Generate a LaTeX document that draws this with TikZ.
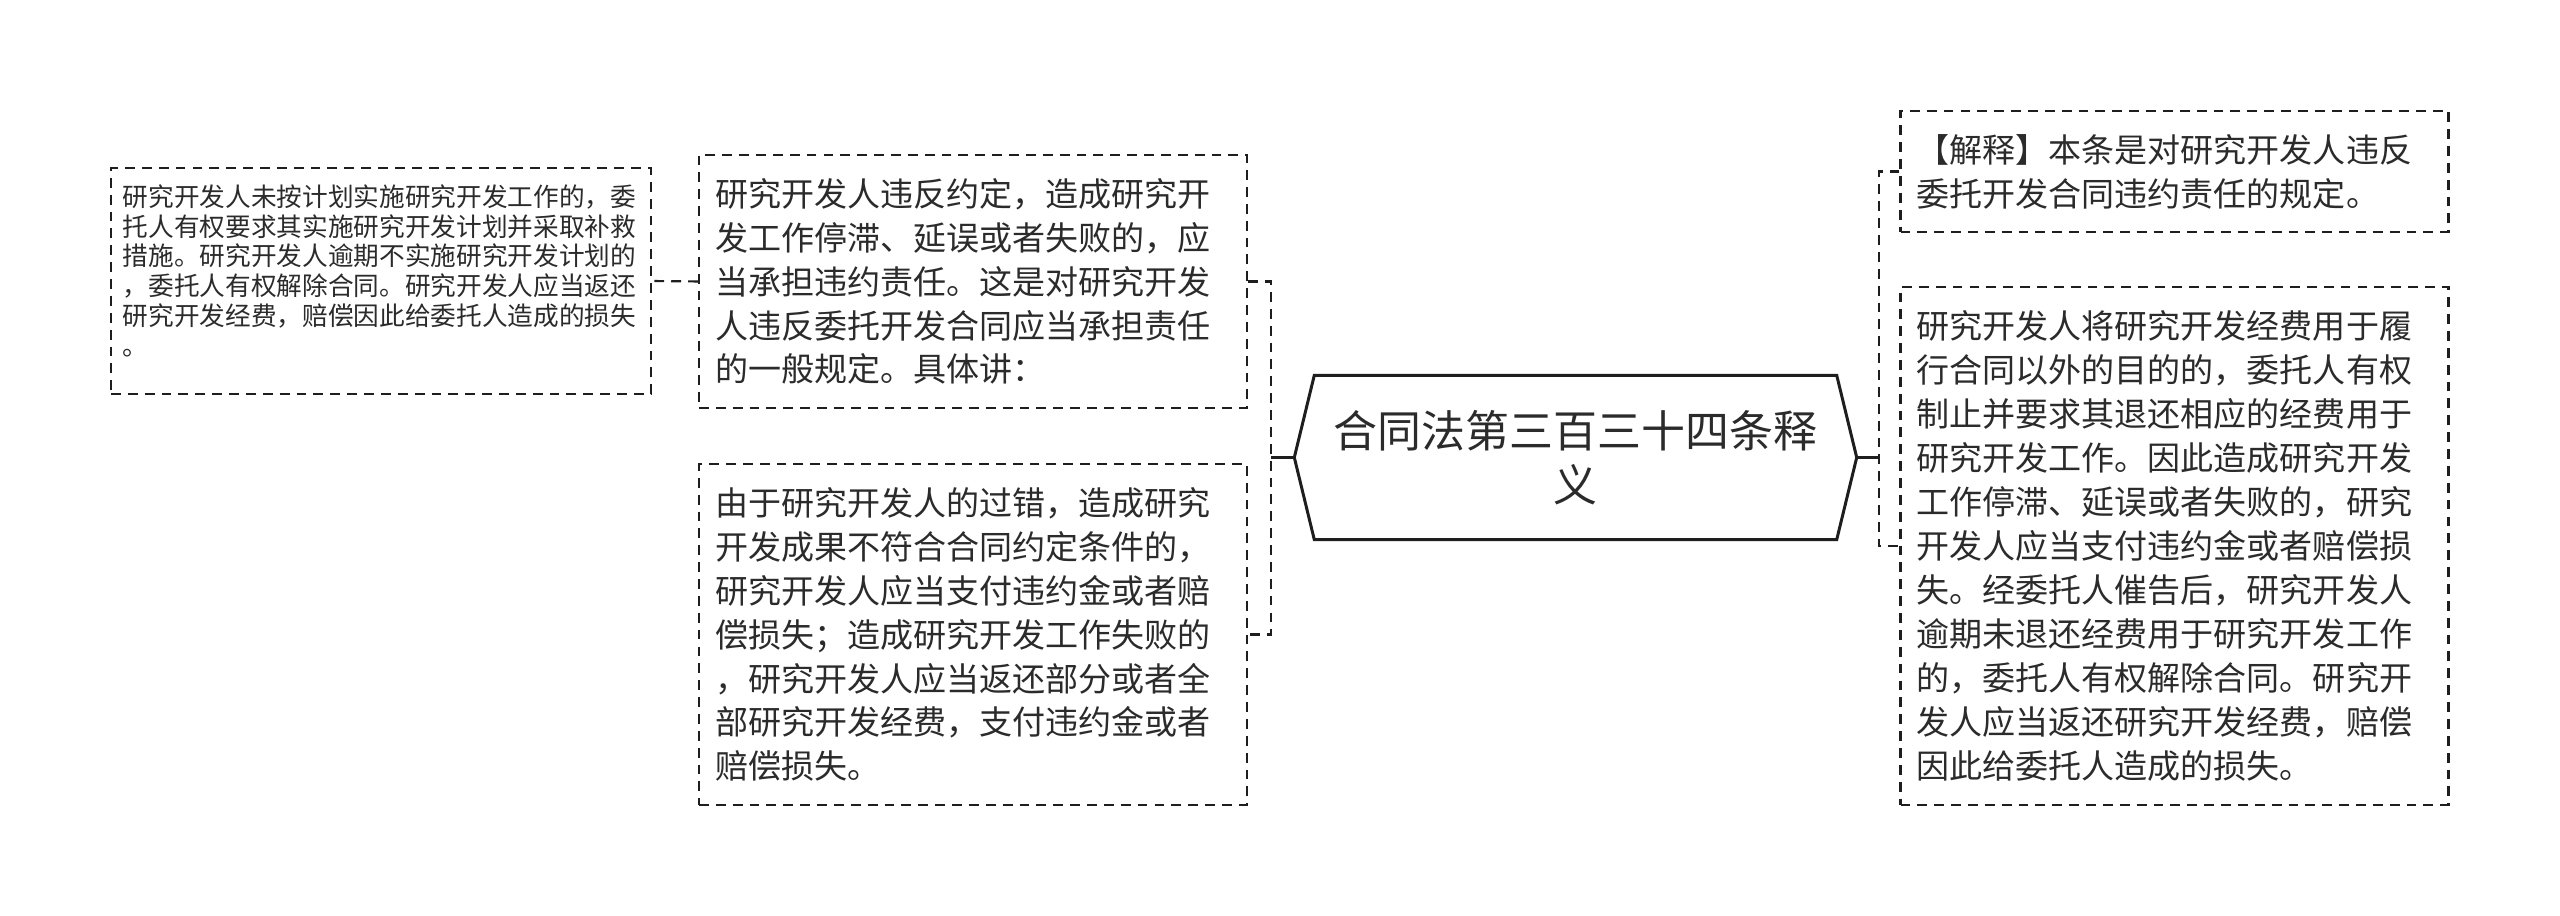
\documentclass[tikz,border=0pt]{standalone}
\usepackage{fontspec}
\newfontfamily\cjk{Noto Sans CJK SC}
\usetikzlibrary{positioning,calc}
\definecolor{ink}{HTML}{2B2B2B}
\definecolor{edge}{HTML}{1E1E1E}
\newcommand{\bodyfont}{\cjk\fontsize{9.4pt}{12.5pt}\selectfont}
\newcommand{\smallbodyfont}{\cjk\fontsize{7.3pt}{8.5pt}\selectfont}
\newcommand{\titlefont}{\cjk\fontsize{12.5pt}{15.4pt}\selectfont}
\tikzset{
  notebox/.style={
    rectangle, draw=edge, line width=0.6pt, dash pattern=on 2.8pt off 2pt,
    text=ink, font=\bodyfont, align=left,
    text width=5.16cm, inner xsep=0.16cm, inner ysep=0pt,
    minimum height=#1
  },
  notebox/.default=2cm,
  smallbox/.style={
    notebox=#1, font=\smallbodyfont, inner xsep=0.12cm
  },
  titlebox/.style={
    rectangle, draw=none, text=ink, font=\titlefont, align=center,
    minimum width=5.61cm, minimum height=1.63cm, inner sep=0pt
  },
  hexline/.style={draw=edge, line width=0.85pt, line join=miter},
  stemline/.style={draw=edge, line width=0.85pt},
  branchline/.style={draw=edge, line width=0.6pt, dash pattern=on 2.8pt off 2pt},
}

\begin{document}
\begin{tikzpicture}
  \useasboundingbox[fill=white] (0,0) rectangle (25.6,-9.16);

  % centre topic
  \node[titlebox] (topic) at (15.755,-4.575) {合同法第三百三十四条释\\义};
  \draw[hexline]
    ($(topic.north west)+(0.2,0)$) -- ($(topic.north east)+(-0.2,0)$)
    -- (topic.east) -- ($(topic.south east)+(-0.2,0)$)
    -- ($(topic.south west)+(0.2,0)$) -- (topic.west) -- cycle;

  % left branch
  \node[notebox=2.53cm] (general) at (9.73,-2.815)
    {研究开发人违反约定，造成研究开\\发工作停滞、延误或者失败的，应\\当承担违约责任。这是对研究开发\\人违反委托开发合同应当承担责任\\的一般规定。具体讲：};
  \node[notebox=3.41cm] (fault) at (9.73,-6.345)
    {由于研究开发人的过错，造成研究\\开发成果不符合合同约定条件的，\\研究开发人应当支付违约金或者赔\\偿损失；造成研究开发工作失败的\\，研究开发人应当返还部分或者全\\部研究开发经费，支付违约金或者\\赔偿损失。};
  \node[smallbox=2.26cm] (plan) at (3.81,-2.81)
    {研究开发人未按计划实施研究开发工作的，委\\托人有权要求其实施研究开发计划并采取补救\\措施。研究开发人逾期不实施研究开发计划的\\，委托人有权解除合同。研究开发人应当返还\\研究开发经费，赔偿因此给委托人造成的损失\\。\rule[-0.22cm]{0pt}{0pt}};

  % right branch
  \node[notebox=1.21cm] (note) at (21.745,-1.715)
    {【解释】本条是对研究开发人违反\\委托开发合同违约责任的规定。};
  \node[notebox=5.18cm] (funds) at (21.745,-5.46)
    {研究开发人将研究开发经费用于履\\行合同以外的目的的，委托人有权\\制止并要求其退还相应的经费用于\\研究开发工作。因此造成研究开发\\工作停滞、延误或者失败的，研究\\开发人应当支付违约金或者赔偿损\\失。经委托人催告后，研究开发人\\逾期未退还经费用于研究开发工作\\的，委托人有权解除合同。研究开\\发人应当返还研究开发经费，赔偿\\因此给委托人造成的损失。};

  % connectors
  \draw[stemline] (topic.west) -- ++(-0.23,0) coordinate (ljoin);
  \draw[stemline] (topic.east) -- ++(0.22,0) coordinate (rjoin);
  \draw[branchline] (general.east) -| (ljoin) |- (fault.east);
  \draw[branchline] (note.west) -| (rjoin) |- (funds.west);
  \draw[branchline] (general.west) -- (plan.east);
\end{tikzpicture}
\end{document}
